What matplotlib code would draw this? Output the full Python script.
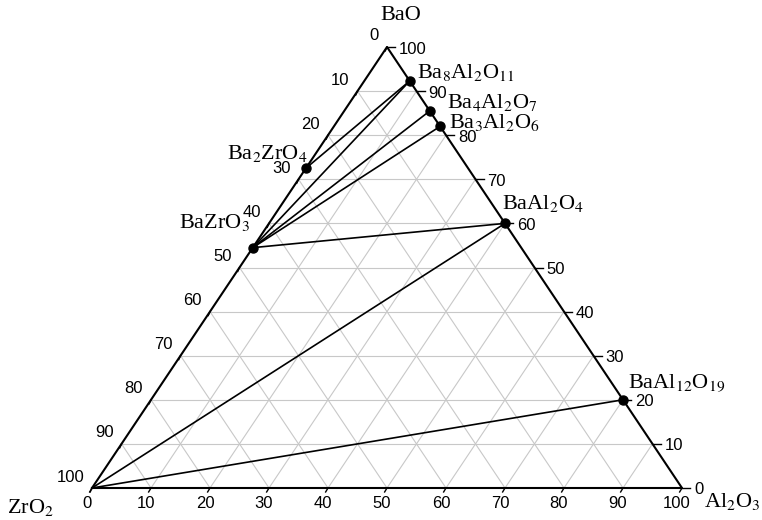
import matplotlib
matplotlib.use('Agg')
import matplotlib.pyplot as plt

plt.rcParams['mathtext.fontset'] = 'stix'

# phases: BaO and Al2O3 content (wt%), ZrO2 is the rest
names = ['Ba8Al2O11', 'Ba4Al2O7', 'Ba3Al2O6', 'BaAl2O4', 'BaAl12O19', 'BaZrO3', 'Ba2ZrO4']
bao = [92.3, 85.5, 82.0, 60.0, 20.0, 54.5, 72.5]
al2o3 = [7.7, 14.5, 18.0, 40.0, 80.0, 0.0, 0.0]
labels = [r'Ba$_8$Al$_2$O$_{11}$', r'Ba$_4$Al$_2$O$_7$', r'Ba$_3$Al$_2$O$_6$',
          r'BaAl$_2$O$_4$', r'BaAl$_{12}$O$_{19}$', r'BaZrO$_3$', r'Ba$_2$ZrO$_4$']
# label placement in pixels relative to point
lab_off = [(7, 8, 'left'), (17, 8, 'left'), (9, 4, 'left'), (-3, 20, 'left'),
           (5, 16, 'left'), (-3, 25, 'right'), (2, 15, 'right')]

# tie lines (ZrO2 is the corner)
ties = [('BaZrO3', 'Ba8Al2O11'), ('Ba2ZrO4', 'Ba8Al2O11'), ('BaZrO3', 'Ba4Al2O7'),
        ('BaZrO3', 'Ba3Al2O6'), ('BaZrO3', 'BaAl2O4'), ('ZrO2', 'BaAl2O4'),
        ('ZrO2', 'BaAl12O19')]

ticks = [0, 10, 20, 30, 40, 50, 60, 70, 80, 90, 100]


def tern(b, a):
    # b = BaO, a = Al2O3 -> cartesian
    return a + b / 2.0, b


comp = dict(zip(names, zip(bao, al2o3)))
comp['ZrO2'] = (0.0, 0.0)

fig = plt.figure(figsize=(7.62, 5.2), dpi=100)
ax = fig.add_axes([92 / 762, 32 / 520, 590 / 762, 441 / 520])
ax.set_xlim(0, 100)
ax.set_ylim(0, 100)
ax.axis('off')

# grid
for k in ticks[1:-1]:
    # BaO = k
    x0, y0 = tern(k, 0)
    x1, y1 = tern(k, 100 - k)
    ax.plot([x0, x1], [y0, y1], color='#c8c8c8', lw=0.8, zorder=1)
    # Al2O3 = k
    x0, y0 = tern(0, k)
    x1, y1 = tern(100 - k, k)
    ax.plot([x0, x1], [y0, y1], color='#c8c8c8', lw=0.8, zorder=1)
    # ZrO2 = k
    x0, y0 = tern(0, 100 - k)
    x1, y1 = tern(100 - k, 0)
    ax.plot([x0, x1], [y0, y1], color='#c8c8c8', lw=0.8, zorder=1)

# frame
cx = [tern(0, 0)[0], tern(0, 100)[0], tern(100, 0)[0], tern(0, 0)[0]]
cy = [tern(0, 0)[1], tern(0, 100)[1], tern(100, 0)[1], tern(0, 0)[1]]
ax.plot(cx, cy, color='black', lw=1.5, zorder=3, clip_on=False)

tk = dict(fontsize=12, family='Liberation Sans', color='black')
for k in ticks:
    # bottom: Al2O3
    x, y = tern(0, k)
    ax.plot([x, x - 0.4], [y, y - 0.9], color='black', lw=1, clip_on=False)
    ax.annotate(str(k), (x, y), xytext=(-5, -15), textcoords='offset pixels',
                ha='center', va='center', **tk)
    # right: BaO
    x, y = tern(k, 100 - k)
    ax.plot([x, x + 1.4], [y, y], color='black', lw=1, clip_on=False)
    ax.annotate(str(k), (x, y), xytext=(12, -2), textcoords='offset pixels',
                ha='left', va='center', **tk)
    # left: ZrO2
    x, y = tern(100 - k, 0)
    ax.plot([x, x - 0.3], [y, y - 0.9], color='black', lw=1, clip_on=False)
    ax.annotate(str(k), (x, y), xytext=(-8, 11), textcoords='offset pixels',
                ha='right', va='center', **tk)

# tie lines
for p, q in ties:
    x0, y0 = tern(*comp[p])
    x1, y1 = tern(*comp[q])
    ax.plot([x0, x1], [y0, y1], color='black', lw=1.2, zorder=4, clip_on=False)

# phases
for n, b, a, lab, (dx, dy, ha) in zip(names, bao, al2o3, labels, lab_off):
    x, y = tern(b, a)
    ax.plot(x, y, 'o', color='black', ms=6.5, zorder=5, clip_on=False)
    ax.annotate(lab, (x, y), xytext=(dx, dy), textcoords='offset pixels',
                ha=ha, va='center', fontsize=16, family='Liberation Serif')

# corner names
ax.annotate('BaO', tern(100, 0), xytext=(14, 32), textcoords='offset pixels',
            ha='center', va='center', fontsize=16, family='Liberation Serif')
ax.annotate(r'ZrO$_2$', tern(0, 0), xytext=(-62, -19), textcoords='offset pixels',
            ha='center', va='center', fontsize=16, family='Liberation Serif')
ax.annotate(r'Al$_2$O$_3$', tern(0, 100), xytext=(50, -14), textcoords='offset pixels',
            ha='center', va='center', fontsize=16, family='Liberation Serif')

fig.savefig('out.png', dpi=100)
